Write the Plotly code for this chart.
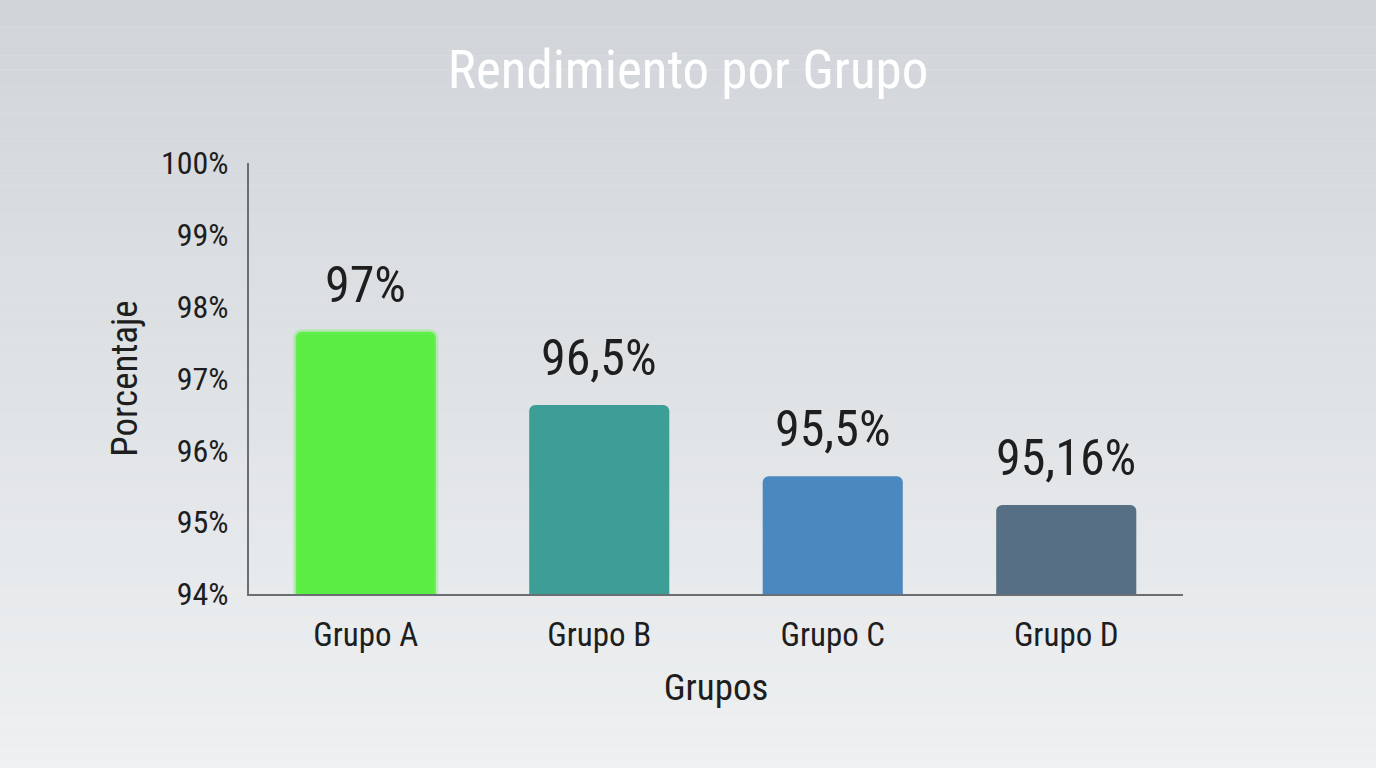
import plotly.graph_objects as go

# Datos
grupos = ['Grupo A', 'Grupo B', 'Grupo C', 'Grupo D']
alturas = [97.65, 96.63, 95.64, 95.24]
etiquetas = ['97%', '96,5%', '95,5%', '95,16%']
colores = ['#5ced45', '#3d9e98', '#4a88bf', '#566f85']
ticks_y = [94, 95, 96, 97, 98, 99, 100]
ticks_txt = ['94%', '95%', '96%', '97%', '98%', '99%', '100%']

FONT = 'Roboto Condensed, Liberation Sans Narrow, Roboto, sans-serif'
TXT = '#1e1e1e'

fig = go.Figure()
fig.add_trace(go.Bar(
    x=grupos, y=alturas,
    marker=dict(color=colores, cornerradius=6,
                line=dict(width=[5, 0, 0, 0], color=['rgba(110,240,90,0.35)', 'rgba(0,0,0,0)',
                                                      'rgba(0,0,0,0)', 'rgba(0,0,0,0)'])),
    hoverinfo='skip', showlegend=False,
))

# etiquetas sobre las barras
for g, h, t in zip(grupos, alturas, etiquetas):
    fig.add_annotation(x=g, y=h, text=t, showarrow=False, yanchor='bottom', yshift=16,
                       font=dict(family=FONT, size=50, color=TXT))

# fondo degradado
n = 60
for i in range(n):
    f = i / (n - 1)
    c0 = (208, 212, 217)
    c1 = (241, 243, 244)
    c = tuple(int(a + (b - a) * f) for a, b in zip(c0, c1))
    fig.add_shape(type='rect', xref='paper', yref='paper', layer='below',
                  x0=-0.5, x1=1.5, y0=1.45 - (i + 1) * 2.0 / n, y1=1.45 - i * 2.0 / n,
                  fillcolor='rgb(%d,%d,%d)' % c, line=dict(width=0))

fig.update_layout(
    width=1376, height=768,
    margin=dict(l=249, r=193, t=163, b=174),
    paper_bgcolor='#e4e6e9',
    plot_bgcolor='rgba(0,0,0,0)',
    bargap=0.4,
    title=dict(text='Rendimiento por Grupo', x=0.5, xanchor='center', y=0.91, yanchor='middle',
               font=dict(family=FONT, size=53, color='#ffffff')),
    font=dict(family=FONT, color=TXT),
    xaxis=dict(title=dict(text='Grupos', font=dict(size=37, color=TXT), standoff=22),
               tickfont=dict(size=33, color=TXT), showgrid=False, zeroline=False,
               showline=True, linecolor='#6b6e72', linewidth=2, ticks='', ticklabelstandoff=10),
    yaxis=dict(title=dict(text='Porcentaje', font=dict(size=37, color=TXT), standoff=12),
               range=[94, 100], tickvals=ticks_y, ticktext=ticks_txt,
               tickfont=dict(size=32, color=TXT), showgrid=False, zeroline=False,
               showline=True, linecolor='#6b6e72', linewidth=2, ticks='', ticklabelstandoff=12),
)

fig.write_html('out.html', config={'displayModeBar': False},
               post_script="document.body.style.margin='0px';")
